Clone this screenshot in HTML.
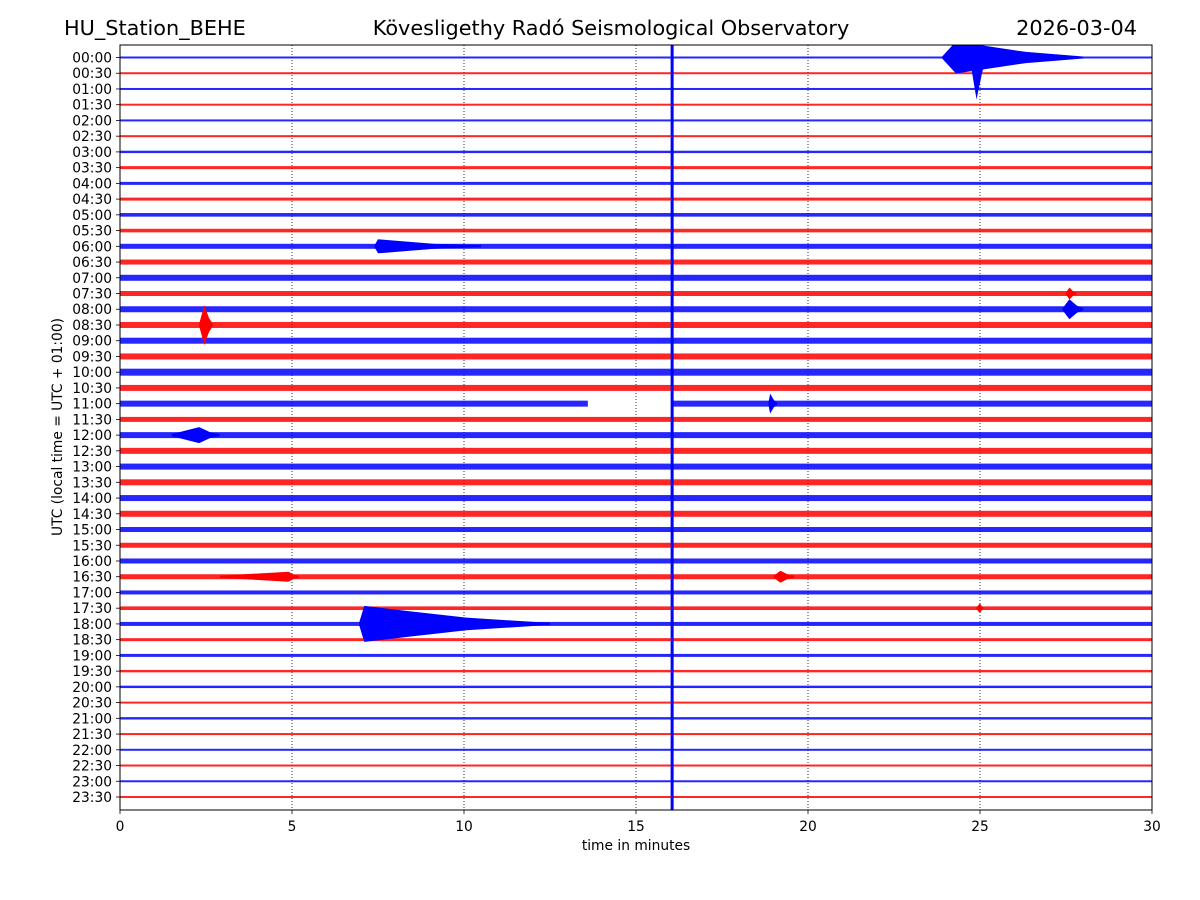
<!DOCTYPE html>
<html><head><meta charset="utf-8">
<style>
html,body{margin:0;padding:0;background:#fff;}
svg{display:block;font-family:"DejaVu Sans","Liberation Sans",sans-serif;}
</style></head>
<body>
<svg id="chart" width="1200" height="900" viewBox="0 0 1200 900" xmlns="http://www.w3.org/2000/svg">
  <rect width="1200" height="900" fill="#fff"/>
  <text x="64" y="35" font-size="20.8">HU_Station_BEHE</text>
  <text x="611" y="35" font-size="20.8" text-anchor="middle">Kövesligethy Radó Seismological Observatory</text>
  <text x="1137" y="35" font-size="20.8" text-anchor="end">2026-03-04</text>
  <g id="grid"></g>
  <g id="traces"></g>
  <g id="axes"></g>
  <text x="636" y="850" font-size="13.8" text-anchor="middle">time in minutes</text>
  <text transform="translate(62,427) rotate(-90)" font-size="13.8" text-anchor="middle">UTC (local time = UTC + 01:00)</text>
</svg>
<script>
const rowLabels = ["00:00","00:30","01:00","01:30","02:00","02:30","03:00","03:30","04:00","04:30","05:00","05:30","06:00","06:30","07:00","07:30","08:00","08:30","09:00","09:30","10:00","10:30","11:00","11:30","12:00","12:30","13:00","13:30","14:00","14:30","15:00","15:30","16:00","16:30","17:00","17:30","18:00","18:30","19:00","19:30","20:00","20:30","21:00","21:30","22:00","22:30","23:00","23:30"];
const noiseAmp = [1,1,1,1,1,1,1.2,1.5,1.5,1.5,1.8,1.8,2.5,2.5,3,2.5,3,3,3,3,3.5,3,3,2.5,3,3,3,3,3,3,2.5,2.5,2.5,2.5,2,1.8,2,1.5,1.5,1.2,1.2,1,1.2,1,1,1,1,1];
// [row, startMin, peakMin, endMin, amplitudePx]
const events = [[0,23.9,24.3,28,16],[0,24.7,24.9,25.2,42],[12,7.4,7.5,10.5,7],[16,27.4,27.6,28,10],[17,2.3,2.45,2.7,20],[22,18.85,18.9,19.1,10],[24,1.5,2.3,2.9,8],[33,2.9,4.9,5.2,5],[33,19,19.2,19.6,6],[36,6.95,7.1,12.5,18],[15,27.5,27.6,27.8,6],[35,24.9,25,25.1,5]];
// [row, startMin, endMin]
const gaps = [[22,13.6,16.05]];
const xTicks = [0,5,10,15,20,25,30];
const markerMin = 16.05;

const NS="http://www.w3.org/2000/svg";
const X0=120,X1=1152,Y0=45,Y1=810,XMAX=30;
const xs=m=>X0+(X1-X0)*m/XMAX;
const ys=r=>57.5+r*(797-57.5)/47;
function mk(tag,attrs,parent){const e=document.createElementNS(NS,tag);for(const k in attrs)e.setAttribute(k,attrs[k]);parent.appendChild(e);return e;}
const grid=document.getElementById('grid'),traces=document.getElementById('traces'),axes=document.getElementById('axes');

xTicks.forEach(t=>{
  if(t>0&&t<XMAX){const l=mk('line',{x1:xs(t),x2:xs(t),y1:Y0,y2:Y1,stroke:'#000','stroke-width':0.8,'stroke-dasharray':'1,2'},grid);
  
  }
});

rowLabels.forEach((lab,r)=>{
  const col=r%2===0?'#0000ff':'#ff0000';
  const y=ys(r),a=noiseAmp[r];
  let segs=[[0,XMAX]];
  gaps.filter(g=>g[0]===r).forEach(g=>{segs=[[0,g[1]],[g[2],XMAX]];});
  segs.forEach(s=>{
    const b=mk('rect',{x:xs(s[0]),y:y-a,width:xs(s[1])-xs(s[0]),height:Math.max(1.2,2*a),fill:col,'fill-opacity':0.85},traces);
    
    
  });
  const t=mk('text',{x:112,y:y+5,'font-size':13.8,'text-anchor':'end'},axes);
  t.textContent=lab;
  
  
  mk('line',{x1:116,x2:X0,y1:y,y2:y,stroke:'#000','stroke-width':0.8},axes);
});

const clip=mk('clipPath',{id:'plotclip'},document.getElementById('chart'));
mk('rect',{x:X0,y:Y0,width:X1-X0,height:Y1-Y0},clip);
const evg=mk('g',{'clip-path':'url(#plotclip)'},traces);


events.forEach(ev=>{
  const [r,s,p,e,amp]=ev;const y=ys(r);const col=r%2===0?'#0000ff':'#ff0000';
  const m1=p+(e-p)*0.25,m2=p+(e-p)*0.55;
  const up=[[xs(s),y-1],[xs(p),y-amp],[xs(m1),y-amp*0.7],[xs(m2),y-amp*0.35],[xs(e),y-1]];
  const dn=[[xs(e),y+1],[xs(m2),y+amp*0.35],[xs(m1),y+amp*0.7],[xs(p),y+amp],[xs(s),y+1]];
  const pg=mk('polygon',{points:up.concat(dn).map(q=>q.join(',')).join(' '),fill:col},evg);
  
  
});

const mkr=mk('line',{x1:xs(markerMin),x2:xs(markerMin),y1:Y0,y2:Y1,stroke:'#0000ff','stroke-width':3},traces);



const fr=mk('rect',{x:X0,y:Y0,width:X1-X0,height:Y1-Y0,fill:'none',stroke:'#000','stroke-width':1},axes);


xTicks.forEach(t=>{
  mk('line',{x1:xs(t),x2:xs(t),y1:Y1,y2:Y1+4,stroke:'#000','stroke-width':0.8},axes);
  const tx=mk('text',{x:xs(t),y:831,'font-size':13.8,'text-anchor':'middle'},axes);
  tx.textContent=t;
  
  
});
</script>
</body></html>
